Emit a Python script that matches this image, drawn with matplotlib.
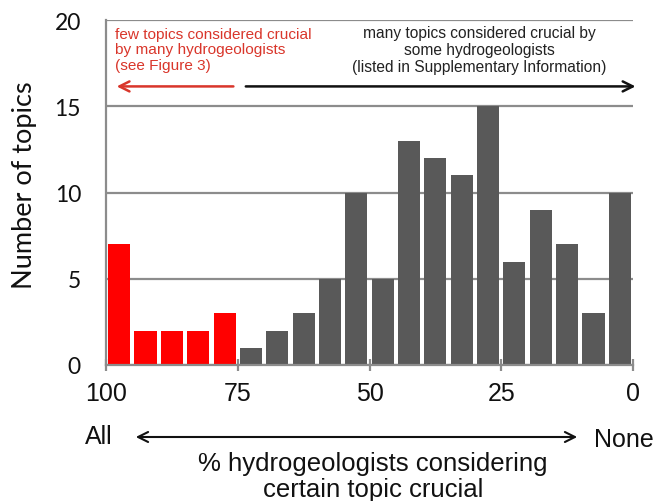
import matplotlib
matplotlib.use("Agg")
import matplotlib.pyplot as plt
import numpy as np

# data
bin_centers = [97.5, 92.5, 87.5, 82.5, 77.5, 72.5, 67.5, 62.5, 57.5, 52.5,
               47.5, 42.5, 37.5, 32.5, 27.5, 22.5, 17.5, 12.5, 7.5, 2.5]
counts = [7, 2, 2, 2, 3, 1, 2, 3, 5, 10, 5, 13, 12, 11, 15, 6, 9, 7, 3, 10]
is_red = [True] * 5 + [False] * 15
x_ticks = [100, 75, 50, 25, 0]
y_ticks = [0, 5, 10, 15, 20]

RED = "#FF0000"
GRAY = "#595959"
LINE = "#8c8c8c"

fig = plt.figure(figsize=(6.57, 5.02), dpi=100)
ax = fig.add_axes([106/657, 1-366/502, (633-106)/657, (366-21)/502])

colors = [RED if r else GRAY for r in is_red]
ax.bar(bin_centers, counts, width=4.2, color=colors, zorder=3)

ax.set_xlim(100, 0)
ax.set_ylim(0, 20)
ax.set_yticks(y_ticks)
ax.set_xticks(x_ticks)
ax.yaxis.grid(True, color=LINE, lw=1.6, zorder=0)
ax.set_axisbelow(True)
for s in ["top", "right"]:
    ax.spines[s].set_visible(False)
for s in ["left", "bottom"]:
    ax.spines[s].set_color(LINE)
    ax.spines[s].set_linewidth(1.6)
    ax.spines[s].set_zorder(4)
ax.tick_params(axis="y", length=0, pad=18, labelsize=16.5)
ax.tick_params(axis="x", direction="inout", length=9, width=1.6, color=LINE,
               pad=7, labelsize=18)
for t in ax.get_yticklabels():
    t.set_fontfamily("Lato")
    t.set_color("#111111")
for t in ax.get_xticklabels():
    t.set_fontfamily("Liberation Sans")
    t.set_color("#111111")

ax.set_ylabel("Number of topics", fontsize=19.5, family="Lato", color="#111111")
ax.yaxis.set_label_coords(-0.13, 0.525)

# top annotations
ax.text(98.3, 18.3, "few topics considered crucial\nby many hydrogeologists\n(see Figure 3)",
        color="#d9362b", fontsize=11.1, family="Liberation Sans", ha="left", va="center",
        linespacing=1.15)
ax.annotate("", xy=(98.5, 16.15), xytext=(75.3, 16.15),
            arrowprops=dict(arrowstyle="->", color="#d9362b", lw=1.8, mutation_scale=18))
ax.text(29.1, 18.3, "many topics considered crucial by\nsome hydrogeologists\n(listed in Supplementary Information)",
        color="#222222", fontsize=11.2, family="Liberation Sans", ha="center", va="center",
        linespacing=1.15)
ax.annotate("", xy=(-1.0, 16.15), xytext=(74.0, 16.15),
            arrowprops=dict(arrowstyle="->", color="#111111", lw=1.8, mutation_scale=18),
            annotation_clip=False)

# bottom labels
fig.text(99/657, 1-437/502, "All", fontsize=18, family="Liberation Sans",
         ha="center", va="center", color="#111111")
fig.text(624/657, 1-440/502, "None", fontsize=18, family="Liberation Sans",
         ha="center", va="center", color="#111111")
fig.patches.append(matplotlib.patches.FancyArrowPatch(
    (133/657, 1-438/502), (580/657, 1-438/502), transform=fig.transFigure,
    arrowstyle="<->", mutation_scale=18, lw=1.5, color="#111111"))
fig.text(373/657, 1-477/502, "% hydrogeologists considering\ncertain topic crucial",
         fontsize=18.5, family="Liberation Sans", ha="center", va="center",
         color="#111111", linespacing=1.08)

fig.savefig("out.png", dpi=100)
